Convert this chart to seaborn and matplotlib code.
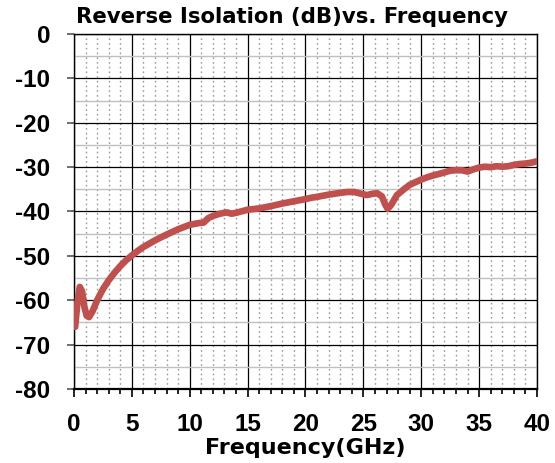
import pandas as pd
import numpy as np
import matplotlib
matplotlib.use("Agg")
import matplotlib.pyplot as plt
import seaborn as sb
from matplotlib.ticker import MultipleLocator

sb.set_style("white")
plt.rcParams["axes.unicode_minus"] = False
plt.rcParams["text.color"] = "black"
plt.rcParams["xtick.color"] = "black"
plt.rcParams["ytick.color"] = "black"
plt.rcParams["axes.labelcolor"] = "black"

# values
freq_ghz = [0.1, 0.3, 0.5, 0.7, 0.9, 1.1, 1.3, 1.6, 2.0, 2.5, 3.0, 3.5, 4.0, 4.5,
            5.0, 5.5, 6.0, 7.0, 8.0, 9.0, 10.0, 10.8, 11.2, 11.6, 12.0, 12.6,
            13.2, 13.6, 14.0, 15.0, 16.0, 17.0, 18.0, 19.0, 20.0, 20.5, 21.0,
            22.0, 23.0, 23.6, 24.2, 24.8, 25.3, 25.8, 26.2, 26.6, 26.9, 27.1,
            27.4, 27.9, 28.5, 29.0, 30.0, 30.5, 31.0, 32.0, 32.5, 33.0, 33.5,
            34.0, 34.5, 35.0, 35.5, 36.0, 36.5, 37.0, 37.5, 38.0, 38.5, 39.0,
            39.5, 40.0]
isolation_db = [-66.0, -60.5, -57.0, -58.0, -61.5, -63.5, -63.8, -62.5, -60.0,
                -57.5, -55.5, -53.8, -52.3, -51.0, -49.9, -48.9, -48.0, -46.5,
                -45.2, -44.0, -43.0, -42.6, -42.5, -41.5, -41.0, -40.5, -40.2,
                -40.5, -40.3, -39.6, -39.3, -38.8, -38.2, -37.7, -37.2, -36.9,
                -36.7, -36.2, -35.8, -35.6, -35.6, -36.0, -36.3, -36.0, -35.9,
                -36.6, -38.5, -39.4, -38.5, -36.3, -35.0, -34.0, -32.8, -32.3,
                -31.9, -31.2, -30.8, -30.7, -30.7, -31.0, -30.5, -30.1, -29.9,
                -30.0, -29.8, -29.9, -29.8, -29.5, -29.3, -29.2, -29.0, -28.7]
y_ticks = [0, -10, -20, -30, -40, -50, -60, -70, -80]
x_ticks = [0, 5, 10, 15, 20, 25, 30, 35, 40]

df = pd.DataFrame({"freq": freq_ghz, "s12": isolation_db})

fig = plt.figure(figsize=(5.55, 4.63), dpi=100)
ax = fig.add_axes([0.1333, 0.1598, 0.8343, 0.7668])

sb.lineplot(data=df, x="freq", y="s12", ax=ax, color="#C0504D", linewidth=4.8,
            solid_capstyle="round", solid_joinstyle="round", zorder=5)

ax.set_xlim(0, 40)
ax.set_ylim(-80, 0)
ax.set_xticks(x_ticks)
ax.set_xticklabels([str(t) for t in x_ticks], fontfamily="Liberation Sans",
                   fontweight="bold", fontsize=17.5)
ax.set_yticks(y_ticks)
ax.set_yticklabels([str(t) for t in y_ticks], fontfamily="Liberation Sans",
                   fontweight="bold", fontsize=17.5)
ax.xaxis.set_minor_locator(MultipleLocator(1))
ax.yaxis.set_minor_locator(MultipleLocator(5))

ax.grid(which="minor", axis="x", color="#9a9a9a", linestyle=(0, (1.2, 2.2)), linewidth=1.0)
ax.grid(which="minor", axis="y", color="#c0c0c0", linestyle="-", linewidth=1.0)
ax.grid(which="major", axis="both", color="black", linestyle="-", linewidth=0.9)
ax.set_axisbelow(True)

for s in ax.spines.values():
    s.set_color("black")
    s.set_linewidth(1.0)
ax.spines["bottom"].set_linewidth(1.6)

ax.tick_params(axis="x", which="major", direction="out", length=6, width=1.2,
               color="black", bottom=True, pad=11.5)
ax.tick_params(axis="x", which="minor", direction="out", length=3.5, width=1.2,
               color="black", bottom=True)
ax.tick_params(axis="y", which="major", direction="out", length=5, width=1.2,
               color="#555555", left=True, pad=12)
ax.tick_params(axis="y", which="minor", left=False)

ax.set_xlabel("Frequency(GHz)", fontfamily="DejaVu Sans", fontweight="heavy",
              fontsize=16, labelpad=1.5)
ax.set_ylabel("")
ax.set_title("Reverse Isolation (dB)vs. Frequency", fontfamily="DejaVu Sans",
             fontweight="heavy", fontsize=15.3, pad=8, x=0.47)

fig.savefig("out.png", dpi=100)
